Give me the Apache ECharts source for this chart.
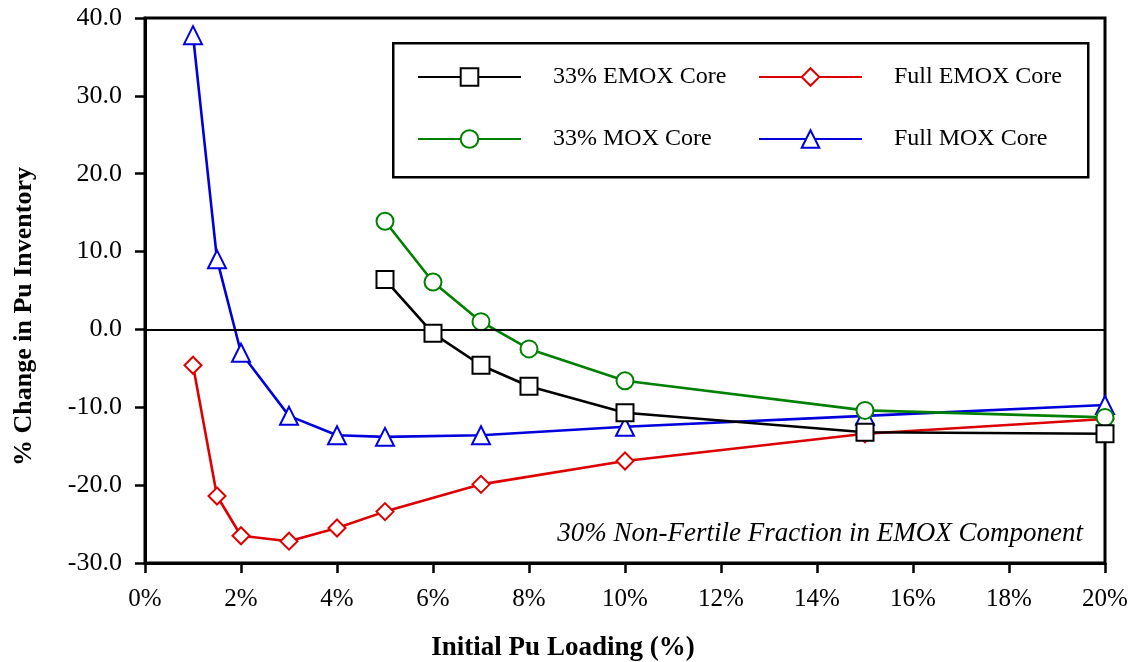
<!DOCTYPE html>
<html>
<head>
<meta charset="utf-8">
<script src="https://cdn.jsdelivr.net/npm/echarts@6/dist/echarts.min.js"></script>
<style>html,body{margin:0;padding:0;background:#fff;}#c{width:1131px;height:662px;}</style>
</head>
<body>
<div id="c"></div>
<script>
// Data
const emox33X = [5, 6, 7, 8, 10, 15, 20];
const emox33Y = [6.4, -0.5, -4.6, -7.3, -10.7, -13.2, -13.4];
const mox33X = [5, 6, 7, 8, 10, 15, 20];
const mox33Y = [13.9, 6.1, 1.0, -2.5, -6.6, -10.4, -11.3];
const fullEmoxX = [1, 1.5, 2, 3, 4, 5, 7, 10, 15, 20];
const fullEmoxY = [-4.6, -21.4, -26.5, -27.2, -25.5, -23.4, -19.9, -16.9, -13.4, -11.5];
const fullMoxX = [1, 1.5, 2, 3, 4, 5, 7, 10, 15, 20];
const fullMoxY = [37.8, 9.0, -3.0, -11.1, -13.6, -13.8, -13.6, -12.5, -11.1, -9.7];
const seriesNames = ['33% EMOX Core', 'Full EMOX Core', '33% MOX Core', 'Full MOX Core'];
const xTickLabels = ['0%','2%','4%','6%','8%','10%','12%','14%','16%','18%','20%'];
const annotation = '30% Non-Fertile Fraction in EMOX Component';

const pair = (xs, ys) => xs.map((x, i) => [x, ys[i]]);
const FONT = '"Liberation Serif", "DejaVu Serif", serif';

function mkSeries(name, data, color, symbol, z) {
  return {
    name: name, type: 'line', data: data, z: z,
    symbol: symbol, symbolSize: symbol === 'emptyTriangle' ? 18 : 17,
    showAllSymbol: true,
    lineStyle: { color: color, width: 2.6 },
    itemStyle: { color: color, borderColor: color, borderWidth: 2.6 },
    emphasis: { disabled: true }
  };
}

const chart = echarts.init(document.getElementById('c'), null, { renderer: 'canvas' });
const series = [
  mkSeries(seriesNames[3], pair(fullMoxX, fullMoxY), '#0000dd', 'emptyTriangle', 2),
  mkSeries(seriesNames[1], pair(fullEmoxX, fullEmoxY), '#dd0000', 'emptyDiamond', 3),
  mkSeries(seriesNames[2], pair(mox33X, mox33Y), '#008000', 'emptyCircle', 4),
  mkSeries(seriesNames[0], pair(emox33X, emox33Y), '#000000', 'emptyRect', 5)
];
series[0].markLine = {
  silent: true, symbol: 'none', label: { show: false },
  lineStyle: { color: '#000', width: 2.2, type: 'solid' },
  data: [{ yAxis: 0 }]
};

const legendCommon = {
  orient: 'vertical', itemWidth: 103, itemHeight: 22, itemGap: 38,
  selectedMode: false,
  textStyle: { fontFamily: FONT, fontSize: 24, color: '#000', padding: [0, 0, 0, 27] }
};

chart.setOption({
  backgroundColor: '#fff',
  animation: false,
  grid: { left: 145, right: 26, top: 18, bottom: 99, outerBoundsMode: 'none', containLabel: false,
    show: true, borderColor: '#000', borderWidth: 3, backgroundColor: 'transparent' },
  legend: [
    Object.assign({}, legendCommon, { left: 412, top: 60, data: [seriesNames[0], seriesNames[2]] }),
    Object.assign({}, legendCommon, { left: 753, top: 60, data: [seriesNames[1], seriesNames[3]] })
  ],
  xAxis: {
    type: 'value', min: 0, max: 20, interval: 2,
    name: 'Initial Pu Loading (%)', nameLocation: 'middle', nameGap: 72,
    nameTextStyle: { fontFamily: FONT, fontSize: 27, fontWeight: 'bold', color: '#000', padding: [0, 124, 0, 0] },
    axisLine: { show: true, onZero: false, lineStyle: { color: '#000', width: 3 } },
    axisTick: { show: true, inside: false, length: 10, lineStyle: { color: '#000', width: 2.5 } },
    axisLabel: { margin: 24, fontFamily: FONT, fontSize: 25, color: '#000',
      formatter: (v) => xTickLabels[Math.round(v / 2)] },
    splitLine: { show: false }
  },
  yAxis: {
    type: 'value', min: -30, max: 40, interval: 10,
    name: '% Change in Pu Inventory', nameLocation: 'middle', nameGap: 108, nameRotate: 90,
    nameTextStyle: { fontFamily: FONT, fontSize: 26, fontWeight: 'bold', color: '#000', padding: [0, 52, 0, 0] },
    axisLine: { show: true, onZero: false, lineStyle: { color: '#000', width: 3 } },
    axisTick: { show: true, inside: false, length: 10, lineStyle: { color: '#000', width: 2.5 } },
    axisLabel: { margin: 23, fontFamily: FONT, fontSize: 26, color: '#000',
      formatter: (v) => v.toFixed(1) },
    splitLine: { show: false }
  },
  graphic: [
    { type: 'rect', left: 392, top: 42, z: 10, silent: true,
      shape: { width: 695, height: 134 },
      style: { fill: 'rgba(0,0,0,0)', stroke: '#000', lineWidth: 2.5 } },
    { type: 'text', right: 48, top: 520, z: 10, silent: true,
      style: { text: annotation, font: 'italic 27px ' + FONT, fill: '#000' } }
  ],
  series: series
});
</script>
</body>
</html>
